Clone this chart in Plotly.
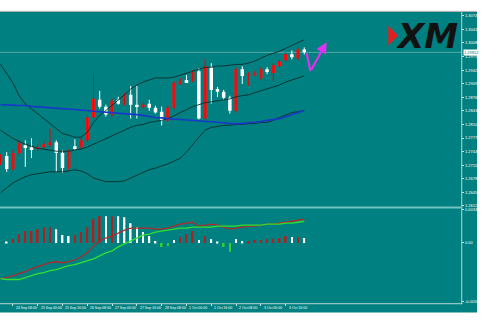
import plotly.graph_objects as go

# ---------------- data ----------------
bars = list(range(50))

opens = [1.27188,1.27332,1.27020,1.27404,1.27596,1.27548,1.27524,1.27548,1.27596,1.27668,
         1.27404,1.27044,1.27572,1.27548,1.27716,1.28268,1.28700,1.28532,1.28340,1.28700,
         1.28604,1.28820,1.28580,1.28532,1.28604,1.28508,1.28412,1.28196,1.28508,1.29108,
         1.29180,1.29156,1.29396,1.28244,1.29492,1.28964,1.28892,1.28748,1.28436,1.29444,
         1.29300,1.29324,1.29228,1.29444,1.29348,1.29516,1.29660,1.29804,1.29708,1.29924]
highs = [1.27380,1.27428,1.27476,1.27716,1.27716,1.27764,1.27620,1.27692,1.28004,1.27716,
         1.27476,1.27500,1.27740,1.27788,1.28316,1.29348,1.28916,1.28580,1.28724,1.28772,
         1.28868,1.29036,1.29036,1.28628,1.28700,1.28556,1.28532,1.28556,1.29156,1.29228,
         1.29300,1.29420,1.29468,1.29708,1.29588,1.29012,1.28940,1.28796,1.29492,1.29516,
         1.29372,1.29396,1.29492,1.29492,1.29588,1.29684,1.29852,1.29900,1.29972,1.29972]
lows = [1.27116,1.26948,1.26972,1.27356,1.27068,1.27284,1.27452,1.27500,1.27548,1.26948,
        1.26924,1.26996,1.27476,1.27500,1.27668,1.28220,1.28484,1.28292,1.28292,1.28580,
        1.28556,1.28244,1.28244,1.28484,1.28436,1.28364,1.28076,1.28172,1.28460,1.29060,
        1.29108,1.29132,1.28220,1.28220,1.28604,1.28772,1.28700,1.28364,1.28388,1.29084,
        1.29036,1.29276,1.29180,1.29324,1.29156,1.29468,1.29612,1.29684,1.29660,1.29804]
closes = [1.27308,1.27020,1.27404,1.27644,1.27548,1.27500,1.27548,1.27620,1.27668,1.27404,
          1.27044,1.27452,1.27524,1.27716,1.28268,1.28724,1.28532,1.28340,1.28676,1.28604,
          1.28820,1.28580,1.28532,1.28580,1.28508,1.28388,1.28196,1.28508,1.29108,1.29156,
          1.29132,1.29372,1.28244,1.29516,1.28940,1.28892,1.28748,1.28436,1.29444,1.29276,
          1.29324,1.29348,1.29444,1.29372,1.29540,1.29636,1.29804,1.29732,1.29924,1.29852]

bb_upper = [1.2956,1.2935,1.2911,1.2880,1.2860,1.2848,1.2836,1.2824,1.2812,1.2800,
            1.2788,1.2784,1.2779,1.2779,1.2791,1.2815,1.2832,1.2844,1.2856,1.2870,
            1.2882,1.2896,1.2906,1.2913,1.2918,1.2923,1.2923,1.2923,1.2925,1.2930,
            1.2935,1.2940,1.2944,1.2949,1.2949,1.2952,1.2952,1.2954,1.2956,1.2956,
            1.2959,1.2964,1.2971,1.2978,1.2983,1.2988,1.2995,1.3002,1.3009,1.3016]
bb_mid = [1.2796,1.2786,1.2776,1.2769,1.2762,1.2757,1.2752,1.2750,1.2748,1.2745,
          1.2745,1.2745,1.2748,1.2750,1.2755,1.2762,1.2769,1.2776,1.2784,1.2791,
          1.2798,1.2803,1.2808,1.2810,1.2815,1.2817,1.2820,1.2824,1.2832,1.2839,
          1.2846,1.2853,1.2858,1.2863,1.2865,1.2868,1.2870,1.2872,1.2877,1.2880,
          1.2882,1.2887,1.2892,1.2896,1.2901,1.2906,1.2913,1.2918,1.2923,1.2928]
bb_lower = [1.2644,1.2656,1.2668,1.2676,1.2683,1.2688,1.2690,1.2692,1.2695,1.2695,
            1.2695,1.2697,1.2700,1.2697,1.2690,1.2680,1.2676,1.2671,1.2671,1.2671,
            1.2673,1.2680,1.2688,1.2695,1.2700,1.2704,1.2709,1.2714,1.2721,1.2728,
            1.2743,1.2762,1.2779,1.2796,1.2803,1.2805,1.2808,1.2808,1.2810,1.2810,
            1.2812,1.2812,1.2815,1.2815,1.2820,1.2827,1.2834,1.2839,1.2841,1.2844]
ma_blue = [1.2858,1.2858,1.2857,1.2856,1.2856,1.2854,1.2853,1.2852,1.2851,1.2850,
           1.2848,1.2847,1.2846,1.2845,1.2844,1.2842,1.2841,1.2840,1.2839,1.2838,
           1.2836,1.2835,1.2834,1.2832,1.2829,1.2827,1.2826,1.2824,1.2823,1.2822,
           1.2821,1.2820,1.2818,1.2817,1.2816,1.2815,1.2814,1.2812,1.2812,1.2812,
           1.2814,1.2815,1.2817,1.2820,1.2822,1.2824,1.2829,1.2834,1.2839,1.2844]

hist = [0.0000,0.0001,0.0004,0.0009,0.0012,0.0012,0.0014,0.0016,0.0016,0.0014,
        0.0008,0.0007,0.0008,0.0011,0.0016,0.0024,0.0027,0.0027,0.0027,0.0027,
        0.0026,0.0020,0.0016,0.0011,0.0007,0.0002,-0.0004,-0.0003,0.0003,0.0006,
        0.0009,0.0012,0.0003,0.0007,0.0004,0.0001,-0.0004,-0.0009,0.0004,0.0002,
        0.0002,0.0003,0.0003,0.0004,0.0004,0.0005,0.0007,0.0006,0.0006,0.0005]
hist_kind = ['w','w','r','r','r','r','r','r','r','w',
             'w','w','r','r','r','r','r','w','r','w',
             'w','w','w','w','w','w','g','g','w','r',
             'r','r','w','r','w','w','g','g','w','w',
             'r','r','r','r','r','r','r','w','r','w']
osc_red = [-0.0036,-0.0035,-0.0033,-0.0031,-0.0029,-0.0026,-0.0024,-0.0022,-0.0020,-0.0019,
           -0.0020,-0.0019,-0.0017,-0.0014,-0.0010,-0.0003,0.0002,0.0005,0.0007,0.0010,
           0.0013,0.0015,0.0015,0.0015,0.0015,0.0014,0.0014,0.0015,0.0017,0.0019,
           0.0020,0.0021,0.0017,0.0018,0.0019,0.0018,0.0016,0.0014,0.0015,0.0016,
           0.0017,0.0017,0.0018,0.0019,0.0019,0.0020,0.0021,0.0022,0.0023,0.0024]
osc_green = [-0.0036,-0.0037,-0.0037,-0.0037,-0.0035,-0.0033,-0.0031,-0.0030,-0.0028,-0.0027,
             -0.0025,-0.0023,-0.0022,-0.0020,-0.0018,-0.0016,-0.0013,-0.0010,-0.0008,-0.0004,
             -0.0001,0.0002,0.0005,0.0008,0.0009,0.0011,0.0012,0.0013,0.0014,0.0015,
             0.0015,0.0016,0.0016,0.0016,0.0016,0.0017,0.0017,0.0017,0.0017,0.0018,
             0.0018,0.0018,0.0018,0.0019,0.0019,0.0019,0.0020,0.0020,0.0021,0.0022]

price_ticks = [1.3074,1.3041,1.3008,1.2975,1.2942,1.2909,1.2876,1.2843,
               1.2810,1.2777,1.2744,1.2711,1.2678,1.2645,1.2612]
price_tick_text = ["%.5f" % v for v in price_ticks]
osc_ticks = [0.0034, 0.0, -0.0059]
osc_tick_text = ["0.003400", "0.00", "-0.005900"]
date_bars = [-2, 2, 6, 10, 14, 18, 22, 26, 30, 34, 38, 42, 46]
date_text = ["21 Sep 16:00", "24 Sep 08:00", "25 Sep 00:00", "25 Sep 16:00", "26 Sep 08:00",
             "27 Sep 00:00", "27 Sep 16:00", "28 Sep 08:00", "1 Oct 00:00", "1 Oct 16:00",
             "2 Oct 08:00", "3 Oct 00:00", "3 Oct 16:00"]
arrow_x = [49.4, 50.0, 52.6]
arrow_y = [1.29828, 1.29396, 1.30100]

# ---------------- layout helpers ----------------
W, H = 484, 322
def fx(px): return px / W
def fy(py): return 1 - py / H

TEAL = "#008080"
XR = [-0.08, 74.32]

fig = go.Figure()

up = [i for i in bars if closes[i] >= opens[i]]
dn = [i for i in bars if closes[i] < opens[i]]

def wicks(sel):
    xs, ys = [], []
    for i in sel:
        xs += [bars[i], bars[i], None]
        ys += [lows[i], highs[i], None]
    return xs, ys

for sel, col in ((up, "#d01010"), (dn, "#ffffff")):
    wx, wy = wicks(sel)
    fig.add_trace(go.Scatter(x=wx, y=wy, mode="lines", line=dict(color=col, width=1),
                             xaxis="x", yaxis="y", hoverinfo="skip", showlegend=False))

fig.add_trace(go.Bar(x=bars,
                     y=[max(abs(c - o), 0.00018) for o, c in zip(opens, closes)],
                     base=[min(o, c) for o, c in zip(opens, closes)],
                     width=0.56,
                     marker=dict(color=["#ff1010" if c >= o else "#ffffff" for o, c in zip(opens, closes)],
                                 line=dict(width=0)),
                     xaxis="x", yaxis="y", showlegend=False))

for ser in (bb_upper, bb_mid, bb_lower):
    fig.add_trace(go.Scatter(x=bars, y=ser, mode="lines", line=dict(color="#0c2c2c", width=0.9),
                             xaxis="x", yaxis="y", showlegend=False))
fig.add_trace(go.Scatter(x=bars, y=ma_blue, mode="lines", line=dict(color="#1838c8", width=1.6),
                         xaxis="x", yaxis="y", showlegend=False))

# magenta arrow
fig.add_trace(go.Scatter(x=arrow_x[:2], y=arrow_y[:2], mode="lines",
                         line=dict(color="#e030f0", width=2.2), xaxis="x", yaxis="y", showlegend=False))

# oscillator
kind_col = {"r": "#b02020", "w": "#ffffff", "g": "#30d030"}
fig.add_trace(go.Bar(x=bars, y=hist, width=0.28,
                     marker=dict(color=[kind_col[k] for k in hist_kind], line=dict(width=0)),
                     xaxis="x2", yaxis="y2", showlegend=False))
fig.add_trace(go.Scatter(x=bars, y=osc_red, mode="lines", line=dict(color="#b02a2a", width=1.3),
                         xaxis="x2", yaxis="y2", showlegend=False))
fig.add_trace(go.Scatter(x=bars, y=osc_green, mode="lines", line=dict(color="#30e030", width=1.3),
                         xaxis="x2", yaxis="y2", showlegend=False))

shapes = [
    dict(type="rect", xref="paper", yref="paper", x0=0, x1=1, y0=fy(314.5), y1=fy(10),
         fillcolor=TEAL, line=dict(width=0), layer="below"),
    dict(type="line", xref="paper", yref="paper", x0=0, x1=1, y0=fy(9.5), y1=fy(9.5),
         line=dict(color="#a0a8a8", width=1)),
    dict(type="line", xref="paper", yref="paper", x0=fx(468.5), x1=fx(468.5), y0=fy(306), y1=fy(10),
         line=dict(color="#b8d8d8", width=1)),
    dict(type="line", xref="paper", yref="paper", x0=0, x1=fx(469), y0=fy(208), y1=fy(208),
         line=dict(color="#70c0c0", width=2)),
    dict(type="line", xref="paper", yref="paper", x0=0, x1=fx(469), y0=fy(305.5), y1=fy(305.5),
         line=dict(color="#b8d8d8", width=1)),
    dict(type="line", xref="paper", yref="y", x0=0, x1=fx(468), y0=closes[-1], y1=closes[-1],
         line=dict(color="#58a8a8", width=1), layer="below"),
    # XM logo red wedge
    dict(type="path", xref="paper", yref="paper",
         path="M %f %f L %f %f L %f %f Z" % (fx(394), fy(24), fx(404), fy(34), fx(394), fy(44)),
         fillcolor="#e02020", line=dict(width=0)),
]

ann = []
for b, t in zip(date_bars, date_text):
    ann.append(dict(x=b + 0.15, y=fy(310), xref="x2", yref="paper", text=t, showarrow=False,
                    xanchor="left", yanchor="middle", font=dict(size=3.5, color="#ffffff",
                                                                 family="Liberation Sans")))
ann.append(dict(x=fx(469.5), y=closes[-1], xref="paper", yref="y", text="%.5f" % closes[-1],
                showarrow=False, xanchor="left", yanchor="middle", bgcolor="#ffffff",
                borderpad=0, font=dict(size=4, color=TEAL, family="Liberation Sans")))
ann.append(dict(x=fx(433), y=fy(34), xref="paper", yref="paper", text="XM",
                showarrow=False, xanchor="center", yanchor="middle",
                font=dict(size=34, color="#111111", family="DejaVu Sans", weight="bold",
                          style="italic")))
ann.append(dict(x=arrow_x[2], y=arrow_y[2], ax=arrow_x[1], ay=arrow_y[1], xref="x", yref="y",
                axref="x", ayref="y", showarrow=True, arrowhead=2, arrowsize=1, arrowwidth=2.2,
                arrowcolor="#e030f0", text=""))

fig.update_layout(
    width=W, height=H, autosize=False,
    margin=dict(l=0, r=0, t=0, b=0, pad=0),
    paper_bgcolor="#ffffff", plot_bgcolor="rgba(0,0,0,0)",
    barmode="overlay", showlegend=False,
    xaxis=dict(domain=[0, fx(468)], range=XR, visible=False, anchor="y"),
    yaxis=dict(domain=[fy(207), fy(10)], range=[1.26108, 1.30836], side="right", anchor="x",
               tickvals=price_ticks, ticktext=price_tick_text, ticks="outside", ticklen=2,
               tickcolor="#c8e0e0", tickfont=dict(size=4, color="#ffffff", family="Liberation Sans"),
               showgrid=False, zeroline=False, showline=False),
    xaxis2=dict(domain=[0, fx(468)], range=XR, anchor="y2", showticklabels=False,
                tickvals=date_bars, ticks="outside", ticklen=2, tickcolor="#c8e0e0",
                showgrid=False, zeroline=False, showline=False),
    yaxis2=dict(domain=[fy(305), fy(209)], range=[-0.0061, 0.0035], side="right", anchor="x2",
                tickvals=osc_ticks, ticktext=osc_tick_text, ticks="outside", ticklen=2,
                tickcolor="#c8e0e0", tickfont=dict(size=4, color="#ffffff", family="Liberation Sans"),
                showgrid=False, zeroline=False, showline=False),
    shapes=shapes, annotations=ann,
)

fig.write_html("out.html")
